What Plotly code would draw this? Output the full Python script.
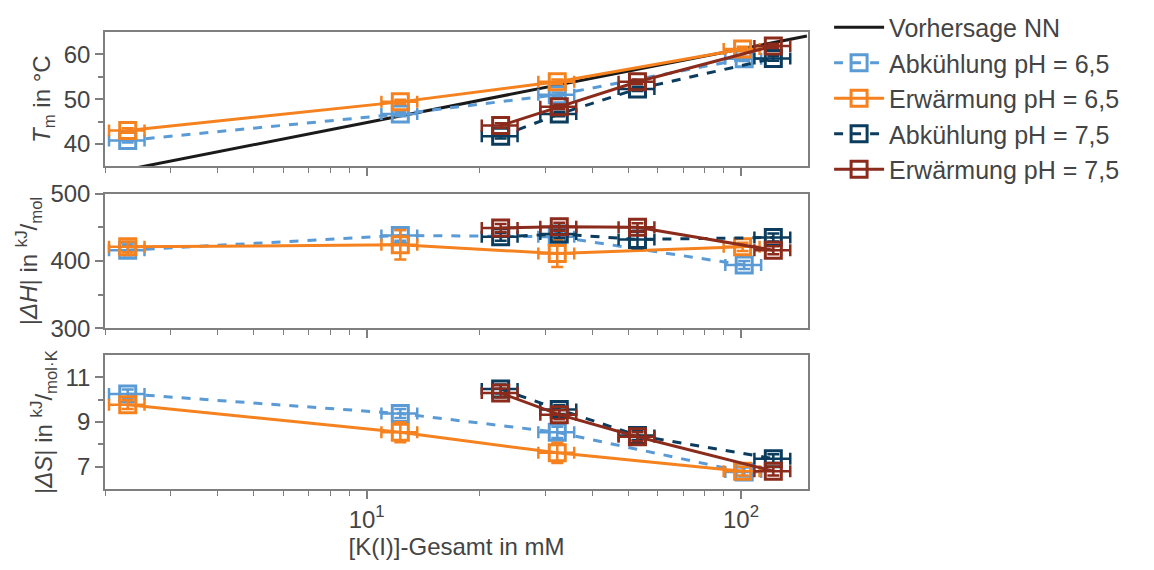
import plotly.graph_objects as go

# ---------------- data ----------------
series_names = ["Abkühlung pH = 6,5", "Erwärmung pH = 6,5", "Abkühlung pH = 7,5", "Erwärmung pH = 7,5"]
nn_name = "Vorhersage NN"

# K(I) total concentrations (mM)
conc_ab65 = [2.3, 12.3, 32.3, 102.0]
conc_er65 = [2.3, 12.3, 32.3, 101.0]
conc_ab75 = [22.8, 32.7, 52.9, 122.0]
conc_er75 = [22.8, 32.7, 52.9, 122.0]

# x error (mM)
xerr_ab65 = [0.25, 1.35, 3.55, 11.2]
xerr_er65 = [0.25, 1.35, 3.55, 11.1]
xerr_ab75 = [2.5, 3.6, 5.8, 13.4]
xerr_er75 = [2.5, 3.6, 5.8, 13.4]

# melting temperatures Tm (°C)
tm_ab65 = [40.8, 46.7, 51.0, 59.0]
tm_er65 = [43.0, 49.4, 53.9, 61.2]
tm_ab75 = [41.7, 46.7, 52.3, 59.1]
tm_er75 = [44.1, 48.3, 53.9, 61.9]
tm_err_ab65 = [0.5, 0.5, 0.5, 0.5]
tm_err_er65 = [0.5, 0.5, 0.5, 0.5]
tm_err_ab75 = [0.5, 0.5, 0.5, 0.5]
tm_err_er75 = [0.5, 0.5, 0.5, 0.5]

# nearest-neighbour prediction
nn_conc = [2.0, 150.0]
nn_tm = [33.3, 64.1]

# |dH| (kJ/mol)
dh_ab65 = [416, 438, 436, 394]
dh_er65 = [421, 424, 411, 421]
dh_ab75 = [436, 440, 432, 435]
dh_er75 = [449, 451, 450, 416]
dh_err_ab65 = [8, 8, 8, 6]
dh_err_er65 = [8, 22, 20, 6]
dh_err_ab75 = [6, 6, 13, 6]
dh_err_er75 = [6, 6, 6, 6]

# |dS| (kJ/(mol K))
ds_ab65 = [10.26, 9.38, 8.54, 6.76]
ds_er65 = [9.78, 8.54, 7.62, 6.80]
ds_ab75 = [10.48, 9.56, 8.40, 7.36]
ds_er75 = [10.30, 9.33, 8.34, 6.80]
ds_err_ab65 = [0.2, 0.2, 0.25, 0.2]
ds_err_er65 = [0.2, 0.45, 0.45, 0.2]
ds_err_ab75 = [0.2, 0.2, 0.2, 0.2]
ds_err_er75 = [0.2, 0.2, 0.2, 0.2]

x_tick_vals = [10, 100]
x_tick_text = ["10<sup>1</sup>", "10<sup>2</sup>"]
x_minor_vals = [2, 3, 4, 5, 6, 7, 8, 9, 20, 30, 40, 50, 60, 70, 80, 90]

# ---------------- styles ----------------
colors = ["#5b9bd5", "#f5821f", "#0b3c5d", "#8b2b1c"]
dashes = ["dash", "solid", "dash", "solid"]
FONT = "Liberation Sans, Arial, sans-serif"
TXT = "#444444"
AX = "#7f7f7f"
FS = 24

concs = [conc_ab65, conc_er65, conc_ab75, conc_er75]
xerrs = [xerr_ab65, xerr_er65, xerr_ab75, xerr_er75]
panels = [
    ([tm_ab65, tm_er65, tm_ab75, tm_er75], [tm_err_ab65, tm_err_er65, tm_err_ab75, tm_err_er75], "y"),
    ([dh_ab65, dh_er65, dh_ab75, dh_er75], [dh_err_ab65, dh_err_er65, dh_err_ab75, dh_err_er75], "y2"),
    ([ds_ab65, ds_er65, ds_ab75, ds_er75], [ds_err_ab65, ds_err_er65, ds_err_ab75, ds_err_er75], "y3"),
]
xrefs = ["x", "x2", "x3"]

fig = go.Figure()

fig.add_trace(go.Scatter(
    x=nn_conc, y=nn_tm, mode="lines", name=nn_name,
    line=dict(color="#1a1a1a", width=3), xaxis="x", yaxis="y", showlegend=True,
))

for p, (vals, errs, yref) in enumerate(panels):
    for i in range(4):
        fig.add_trace(go.Scatter(
            x=concs[i], y=vals[i], mode="lines+markers",
            name=series_names[i], legendgroup=series_names[i], showlegend=(p == 0),
            line=dict(color=colors[i], width=3, dash=dashes[i]),
            marker=dict(symbol="square-open", size=16, color=colors[i], line=dict(width=3, color=colors[i])),
            error_x=dict(type="data", array=xerrs[i], color=colors[i], thickness=2.5, width=6),
            error_y=dict(type="data", array=errs[i], color=colors[i], thickness=2.5, width=6),
            xaxis=xrefs[p], yaxis=yref,
        ))

xcommon = dict(
    type="log", range=[0.301, 2.179],
    tickmode="array", tickvals=x_tick_vals, ticktext=x_tick_text,
    ticks="outside", ticklen=8, tickwidth=1.5, tickcolor=AX,
    minor=dict(tickmode="array", tickvals=x_minor_vals, ticks="outside", ticklen=5, tickwidth=1.2, tickcolor=AX),
    showline=True, linecolor=AX, linewidth=1.5, mirror=True,
    showgrid=False, zeroline=False,
    tickfont=dict(family=FONT, size=FS, color=TXT),
)
ycommon = dict(
    ticks="outside", ticklen=8, tickwidth=1.5, tickcolor=AX,
    showline=True, linecolor=AX, linewidth=1.5, mirror=True,
    showgrid=False, zeroline=False,
    tickfont=dict(family=FONT, size=FS, color=TXT),
    title_standoff=6,
)

fig.update_layout(
    width=1154, height=570,
    margin=dict(l=105, r=346, t=32, b=81, autoexpand=False),
    paper_bgcolor="white", plot_bgcolor="white",
    font=dict(family=FONT, size=FS, color=TXT),
    showlegend=True,
    legend=dict(x=1.03, y=1.06, xanchor="left", yanchor="top",
                font=dict(family=FONT, size=25, color=TXT),
                bgcolor="rgba(0,0,0,0)", itemwidth=50, tracegroupgap=0),
    xaxis=dict(**xcommon, anchor="y", domain=[0, 1], showticklabels=False, matches="x3"),
    xaxis2=dict(**xcommon, anchor="y2", domain=[0, 1], showticklabels=False, matches="x3"),
    xaxis3=dict(**xcommon, anchor="y3", domain=[0, 1], showticklabels=True,
                title=dict(text="[K(I)]-Gesamt in mM", font=dict(family=FONT, size=FS, color=TXT), standoff=6)),
    yaxis=dict(**ycommon, anchor="x", domain=[0.706, 1.0], range=[35, 65], tickvals=[40, 50, 60],
               minor=dict(tickvals=[45, 55], ticks="outside", ticklen=5, tickcolor=AX),
               title=dict(text="<i>T</i><sub>m</sub> in °C", font=dict(family=FONT, size=FS, color=TXT))),
    yaxis2=dict(**ycommon, anchor="x2", domain=[0.352, 0.646], range=[300, 500], tickvals=[300, 400, 500],
                minor=dict(tickvals=[350, 450], ticks="outside", ticklen=5, tickcolor=AX),
                title=dict(text="|<i>ΔH</i>| in <sup>kJ</sup>/<sub>mol</sub>", font=dict(family=FONT, size=FS, color=TXT))),
    yaxis3=dict(**ycommon, anchor="x3", domain=[0.0, 0.293], range=[6, 12], tickvals=[7, 9, 11],
                minor=dict(tickvals=[8, 10], ticks="outside", ticklen=5, tickcolor=AX),
                title=dict(text="|<i>ΔS</i>| in <sup>kJ</sup>/<sub>mol·K</sub>", font=dict(family=FONT, size=FS, color=TXT))),
)

fig.write_html("out.html")
